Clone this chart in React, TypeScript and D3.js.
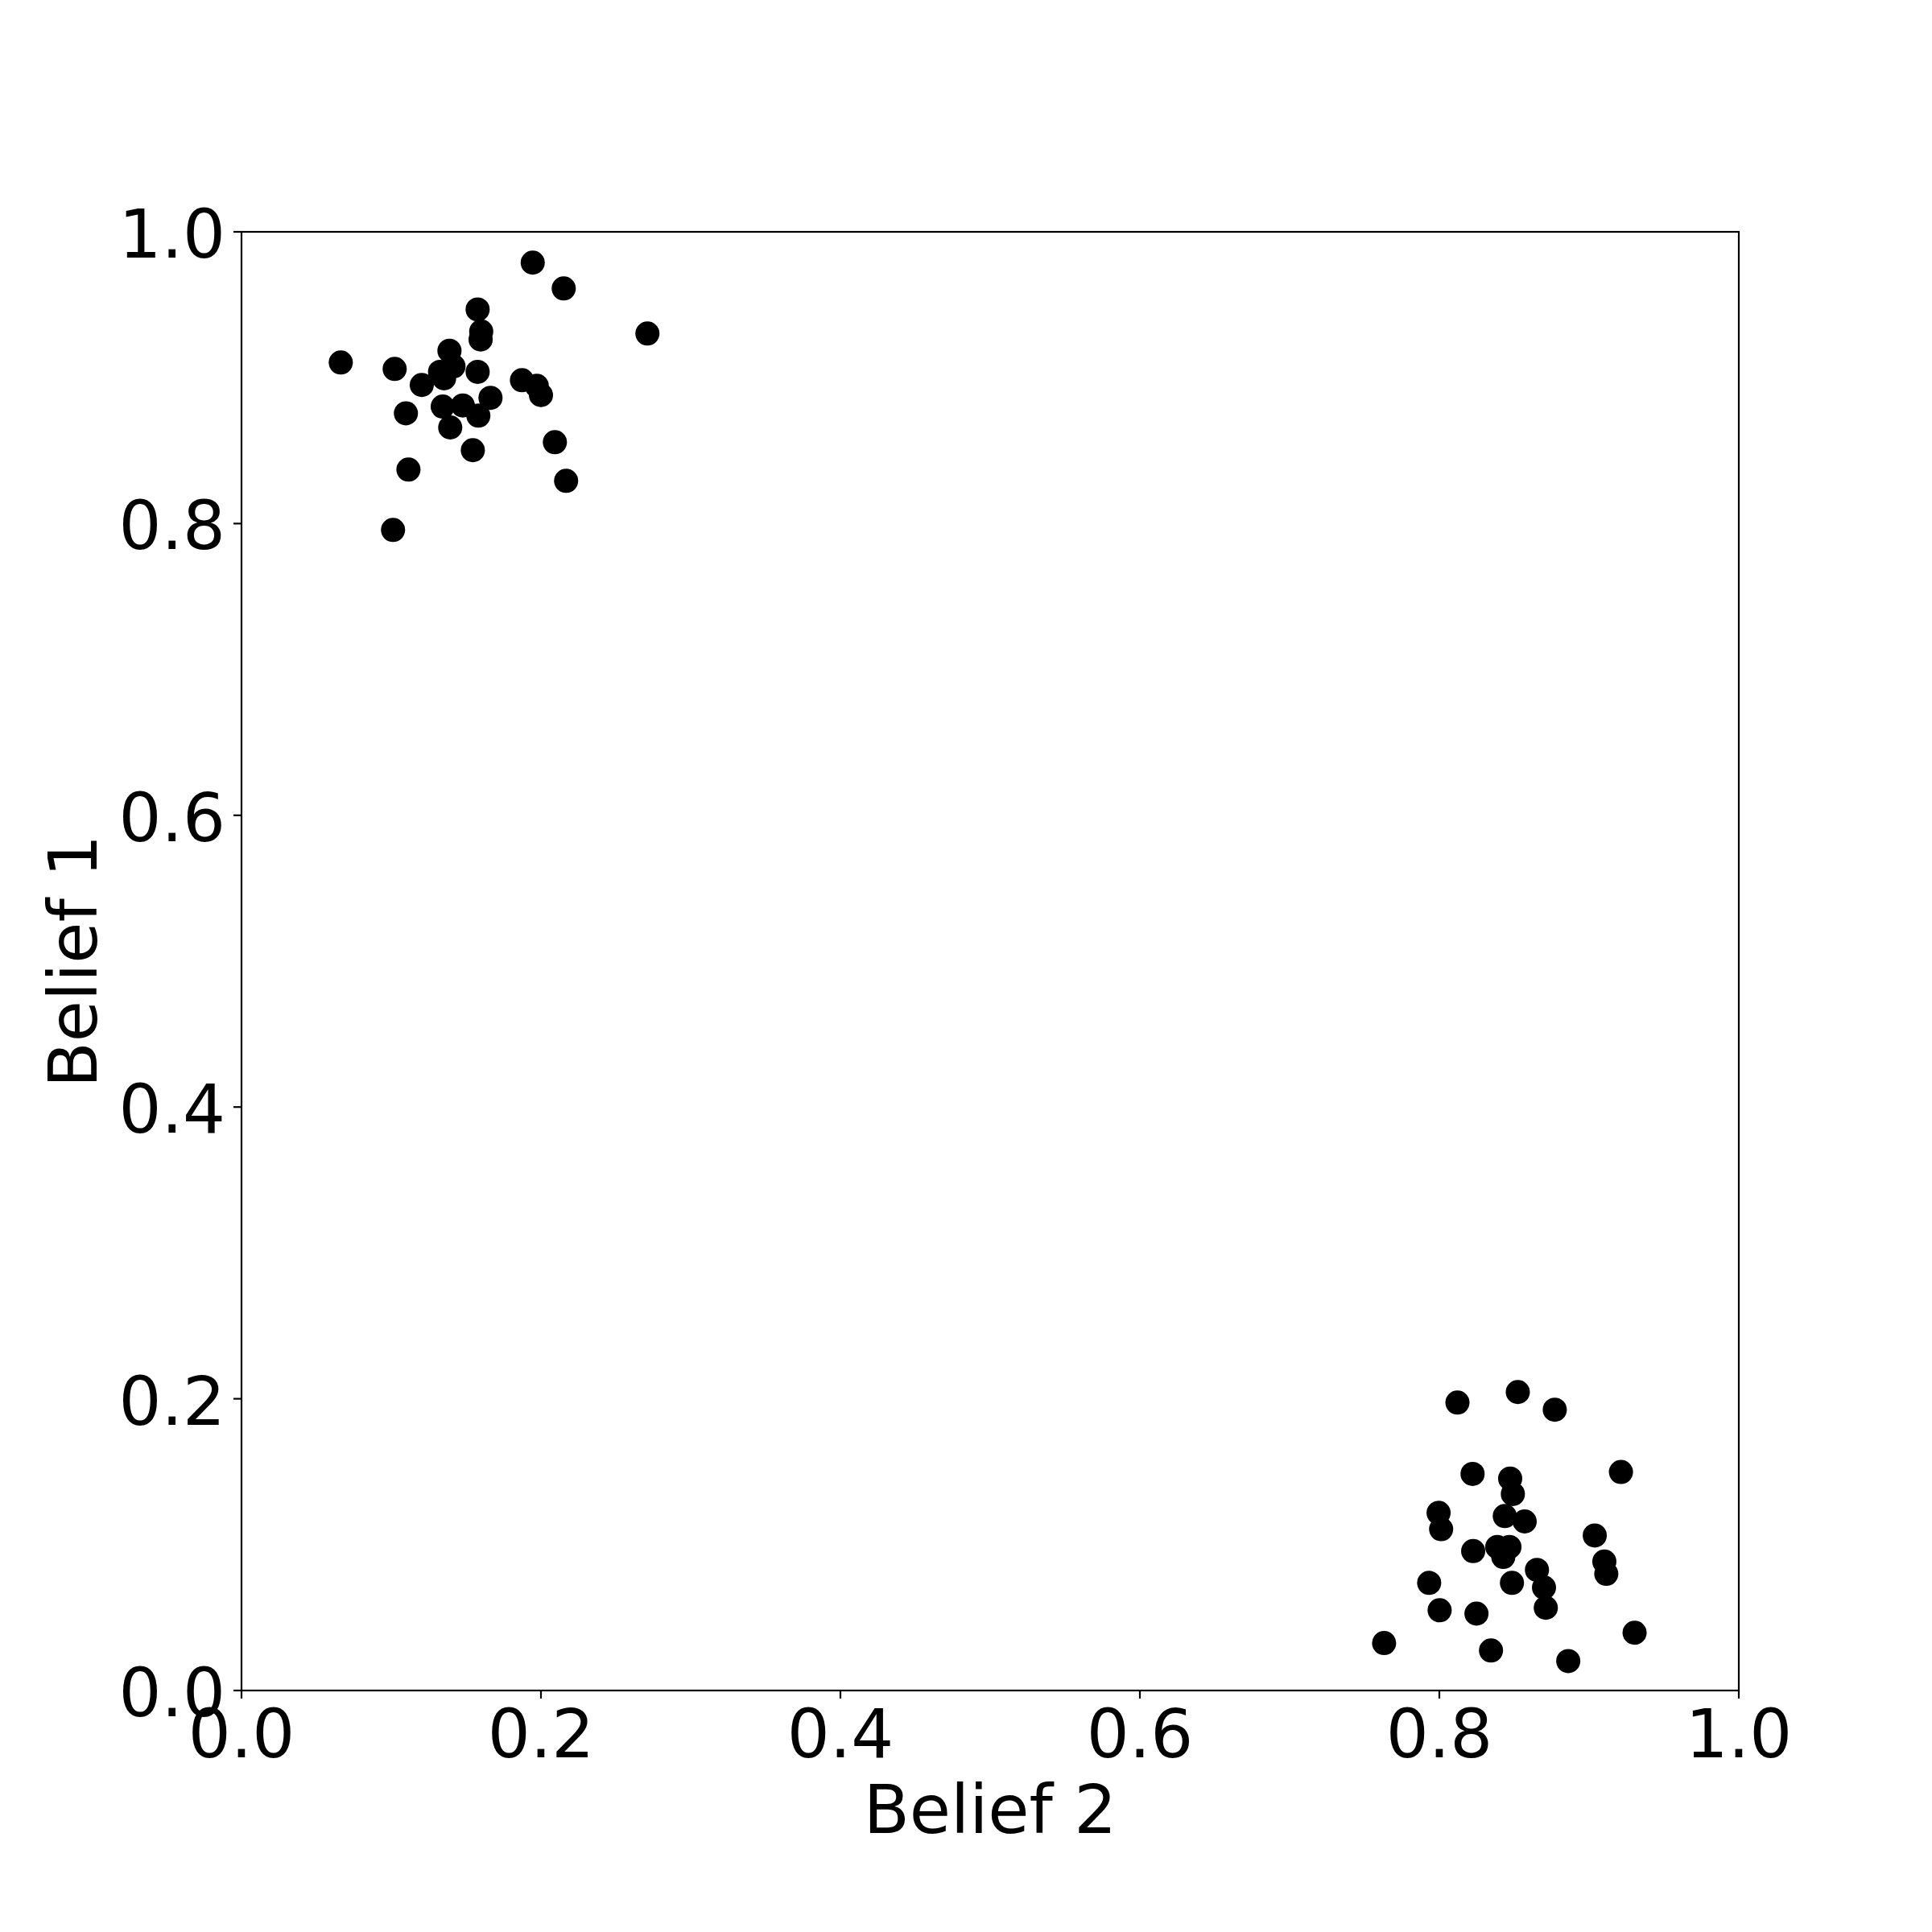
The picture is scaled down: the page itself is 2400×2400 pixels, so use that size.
import React from "react";
import * as d3 from "d3";

// Upper-left cluster: Belief 2 (x) and Belief 1 (y)
const clusterAx = [0.1945, 0.2152, 0.1577, 0.1601, 0.1597, 0.2711, 0.0663, 0.1389, 0.1023, 0.1577, 0.1416, 0.1326, 0.1353, 0.1204, 0.1873, 0.1972, 0.2000, 0.1663, 0.1344, 0.1478, 0.1582, 0.1098, 0.1394, 0.1545, 0.2093, 0.1115, 0.2168, 0.1012];
const clusterAy = [0.9789, 0.9612, 0.9468, 0.9317, 0.9262, 0.9303, 0.9104, 0.9185, 0.9060, 0.9040, 0.9078, 0.9040, 0.8996, 0.8950, 0.8983, 0.8944, 0.8881, 0.8862, 0.8802, 0.8810, 0.8740, 0.8756, 0.8659, 0.8503, 0.8558, 0.8370, 0.8293, 0.7956];

// Lower-right cluster
const clusterBx = [0.8121, 0.8524, 0.8771, 0.8222, 0.8473, 0.8491, 0.9213, 0.7995, 0.8012, 0.8437, 0.8570, 0.9038, 0.9102, 0.9115, 0.8226, 0.8387, 0.8468, 0.8427, 0.8652, 0.8699, 0.8711, 0.7932, 0.8485, 0.8002, 0.8248, 0.7631, 0.8345, 0.8861, 0.9304];
const clusterBy = [0.1974, 0.2046, 0.1925, 0.1485, 0.1453, 0.1347, 0.1498, 0.1218, 0.1106, 0.1196, 0.1159, 0.1063, 0.0884, 0.0800, 0.0956, 0.0984, 0.0984, 0.0916, 0.0827, 0.0706, 0.0567, 0.0738, 0.0738, 0.0550, 0.0527, 0.0325, 0.0274, 0.0202, 0.0396];

const xTicks = [0, 0.2, 0.4, 0.6, 0.8, 1.0];
const yTicks = [0, 0.2, 0.4, 0.6, 0.8, 1.0];
const xLabel = "Belief 2";
const yLabel = "Belief 1";

export default function App() {
  const W = 2400;
  const H = 2400;
  const left = 300, right = 2160, top = 288, bottom = 2100;
  const x = d3.scaleLinear().domain([0, 1]).range([left, right]);
  const y = d3.scaleLinear().domain([0, 1]).range([bottom, top]);
  const fmt = d3.format(".1f");
  const font = "'DejaVu Sans', sans-serif";
  const fs = 83.3;
  const lw = 2.2;
  const tickLen = 10;

  const points = [
    ...clusterAx.map((v, i) => [v, clusterAy[i]]),
    ...clusterBx.map((v, i) => [v, clusterBy[i]]),
  ];

  return (
    <svg
      width={W}
      height={H}
      style={{ position: "absolute", left: 0, top: 0, background: "#fff" }}
      fontFamily={font}
    >
      <rect x={0} y={0} width={W} height={H} fill="#fff" />
      {points.map((p, i) => (
        <circle key={i} cx={x(p[0])} cy={y(p[1])} r={15} fill="#000" />
      ))}
      <rect
        x={left}
        y={top}
        width={right - left}
        height={bottom - top}
        fill="none"
        stroke="#000"
        strokeWidth={lw}
      />
      {xTicks.map((t) => (
        <g key={"x" + t}>
          <line x1={x(t)} x2={x(t)} y1={bottom} y2={bottom + tickLen} stroke="#000" strokeWidth={lw} />
          <text x={x(t)} y={2183} fontSize={fs} textAnchor="middle" fill="#000">
            {fmt(t)}
          </text>
        </g>
      ))}
      {yTicks.map((t) => (
        <g key={"y" + t}>
          <line x1={left - tickLen} x2={left} y1={y(t)} y2={y(t)} stroke="#000" strokeWidth={lw} />
          <text x={280} y={y(t) + 32} fontSize={fs} textAnchor="end" fill="#000">
            {fmt(t)}
          </text>
        </g>
      ))}
      <text x={(left + right) / 2} y={2277} fontSize={fs} textAnchor="middle" fill="#000">
        {xLabel}
      </text>
      <text
        transform={`translate(120, ${(top + bottom) / 2}) rotate(-90)`}
        fontSize={fs}
        textAnchor="middle"
        fill="#000"
      >
        {yLabel}
      </text>
    </svg>
  );
}
